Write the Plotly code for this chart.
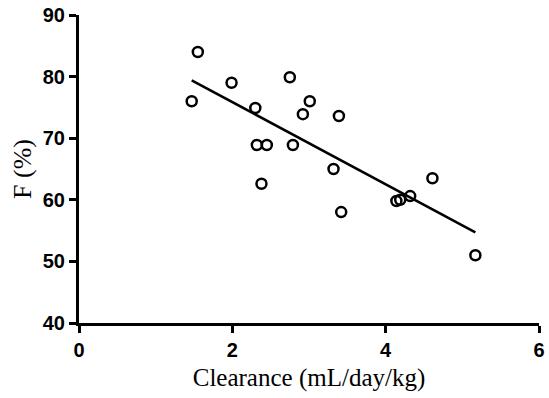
import plotly.graph_objects as go

clearance = [1.47, 1.55, 1.99, 2.30, 2.32, 2.45, 2.38, 2.75, 3.01, 2.92, 3.39, 2.79, 3.32, 3.42, 4.14, 4.19, 4.32, 4.61, 5.17]
f_pct = [76.0, 84.0, 79.0, 74.9, 68.9, 68.9, 62.6, 79.9, 76.0, 73.9, 73.6, 68.9, 65.0, 58.0, 59.8, 60.0, 60.6, 63.5, 51.0]
fit_x = [1.47, 5.17]
fit_y = [79.4, 54.7]
x_ticks = [0, 2, 4, 6]
y_ticks = [40, 50, 60, 70, 80, 90]

fig = go.Figure()
fig.add_trace(go.Scatter(x=fit_x, y=fit_y, mode="lines",
                         line=dict(color="black", width=2.5), showlegend=False))
fig.add_trace(go.Scatter(x=clearance, y=f_pct, mode="markers",
                         marker=dict(symbol="circle-open", size=10, color="black",
                                     line=dict(width=2.5, color="black")),
                         showlegend=False, cliponaxis=False))

tickfont = dict(family="Liberation Sans", size=20, color="black")
xtitlefont = dict(family="Liberation Serif", size=25, color="black")
ytitlefont = dict(family="Liberation Serif", size=26, color="black")

fig.update_layout(
    width=549, height=398,
    margin=dict(l=79, r=4, t=13, b=75),
    paper_bgcolor="white", plot_bgcolor="white",
    xaxis=dict(range=[0, 6], tickvals=x_ticks, ticktext=[f"<b>{v}</b>" for v in x_ticks],
               ticks="outside", ticklen=7, tickwidth=3, ticklabeloverflow="allow",
               tickcolor="black", showline=True, linewidth=3, linecolor="black",
               showgrid=False, zeroline=False, tickfont=tickfont,
               title=dict(text="Clearance (mL/day/kg)", font=xtitlefont, standoff=9)),
    yaxis=dict(range=[40, 90], tickvals=y_ticks, ticktext=[f"<b>{v}</b>" for v in y_ticks],
               ticks="outside", ticklen=7, tickwidth=3,
               tickcolor="black", showline=True, linewidth=3, linecolor="black",
               showgrid=False, zeroline=False, tickfont=tickfont,
               title=dict(text="F (%)", font=ytitlefont, standoff=4)),
)
fig.write_html("out.html")
